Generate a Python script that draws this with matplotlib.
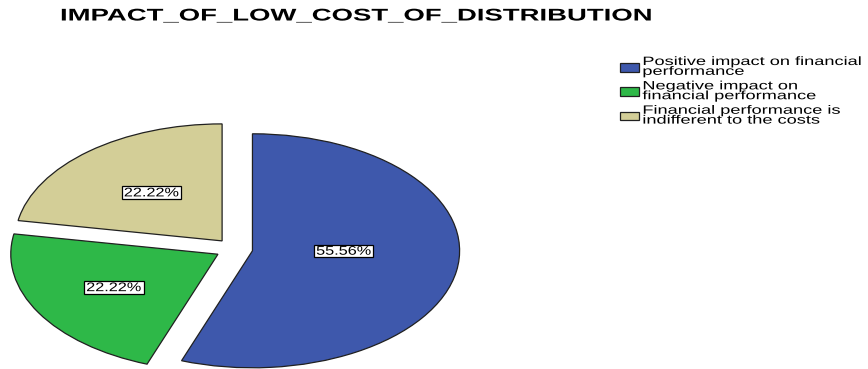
import matplotlib
matplotlib.use("Agg")
import matplotlib.pyplot as plt
import numpy as np
from matplotlib.patheffects import AbstractPathEffect
from matplotlib.transforms import Affine2D
from matplotlib.path import Path

title = "IMPACT_OF_LOW_COST_OF_DISTRIBUTION"
categories = [
    "Positive impact on financial\nperformance",
    "Negative impact on\nfinancial performance",
    "Financial performance is\nindifferent to the costs",
]
shares = [55.56, 22.22, 22.22]
colors = ["#3E58AC", "#2EB848", "#D3CE97"]

# percentage label placement: radial distance (fraction of radius)
# and angular nudge (degrees) from the wedge's mid-angle
label_dist = [0.44, 0.58, 0.53]
label_turn = [9.0, 0.0, 0.0]

FONT = "Liberation Sans"
LABEL_SX = 1.30     # horizontal stretch of the percentage labels


class HStretch(AbstractPathEffect):
    """Draw text glyphs widened horizontally (about the line start or centre)."""

    def __init__(self, sx, anchor="left"):
        super().__init__()
        self.sx = sx
        self.anchor = anchor

    def draw_path(self, renderer, gc, tpath, affine, rgbFace=None):
        if self.anchor == "left":
            x0 = affine.transform((0, 0))[0]
        else:
            ext = tpath.get_extents(affine)
            x0 = 0.5 * (ext.x0 + ext.x1)
        st = Affine2D().translate(-x0, 0).scale(self.sx, 1).translate(x0, 0)
        renderer.draw_path(gc, tpath, affine + st, rgbFace)


def wide_box(x0, y0, width, height, mutation_size):
    # rectangle around a horizontally stretched label
    cx = x0 + width / 2
    cy = y0 + height / 2 + 0.05 * mutation_size
    w = width * LABEL_SX + 0.35 * mutation_size
    h = 1.02 * mutation_size
    verts = [(cx - w / 2, cy - h / 2), (cx + w / 2, cy - h / 2),
             (cx + w / 2, cy + h / 2), (cx - w / 2, cy + h / 2),
             (cx - w / 2, cy - h / 2)]
    codes = [Path.MOVETO, Path.LINETO, Path.LINETO, Path.LINETO, Path.CLOSEPOLY]
    return Path(verts, codes)


fig = plt.figure(figsize=(8.68, 3.69), dpi=100)
ax = fig.add_axes([0, 0, 1, 1])

wedges, _ = ax.pie(
    shares,
    colors=colors,
    startangle=90,
    counterclock=False,
    explode=[0.09] * len(shares),
    wedgeprops=dict(edgecolor="#202020", linewidth=0.9),
)
# stretched (elliptical) pie
ax.set_aspect("auto")
ax.set_xlim(-1.13, 3.06)
ax.set_ylim(-1.026, 2.128)
ax.axis("off")

for w, v, r, turn in zip(wedges, shares, label_dist, label_turn):
    mid = np.deg2rad((w.theta1 + w.theta2) / 2 + turn)
    cx, cy = w.center
    t = ax.text(
        cx + r * np.cos(mid), cy + r * np.sin(mid), f"{v:.2f}%",
        ha="center", va="center", fontsize=9, family=FONT,
        bbox=dict(boxstyle=wide_box, facecolor="white",
                  edgecolor="black", linewidth=0.9),
    )
    t.set_path_effects([HStretch(LABEL_SX, anchor="center")])

ttl = fig.text(60 / 868, 1 - 16 / 369, title, ha="left", va="center",
               fontsize=12.2, fontweight="bold", family=FONT)

leg = fig.legend(
    wedges, categories,
    loc="upper left", bbox_to_anchor=(620 / 868, 1 - 56 / 369),
    bbox_transform=fig.transFigure,
    frameon=False, borderpad=0, borderaxespad=0,
    handlelength=1.55, handleheight=0.75,
    handletextpad=0.3, labelspacing=0.21,
    prop={"family": FONT, "size": 8.7},
)
for t in leg.get_texts():
    t.set_linespacing(0.76)

# widen title and legend text to their full line lengths
renderer = fig.canvas.get_renderer()
tw = ttl.get_window_extent(renderer).width
ttl.set_path_effects([HStretch(590.0 / tw)])
lw = leg.get_texts()[0].get_window_extent(renderer).width
for t in leg.get_texts():
    t.set_path_effects([HStretch(220.0 / lw)])

fig.savefig("out.png", dpi=100)
